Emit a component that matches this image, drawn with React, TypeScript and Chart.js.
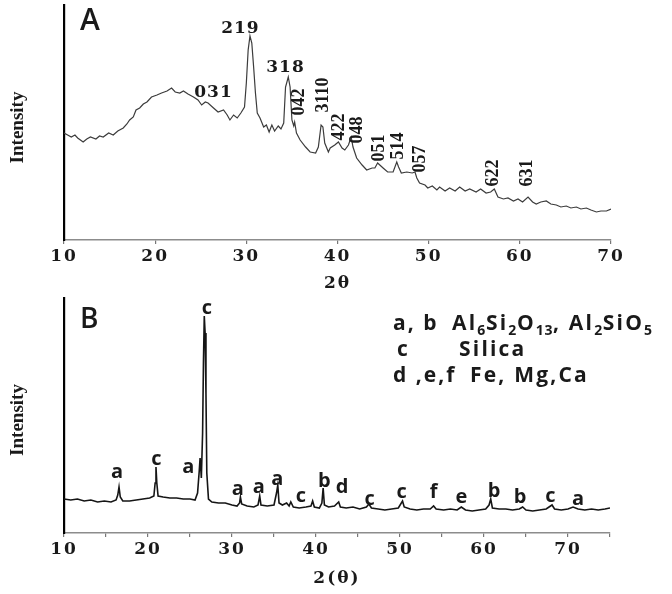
import React, { useEffect, useRef } from 'react';
import { Chart, registerables } from 'chart.js';

Chart.register(...registerables);

// ---------- Panel A data (2θ vs intensity, arbitrary units) ----------
const thetaA = [
  10.0, 10.4, 10.8, 11.2, 11.5, 12.1, 12.5, 12.9, 13.5, 13.9, 14.3, 14.9, 15.4, 15.9, 16.5, 16.9,
  17.2, 17.6, 17.9, 18.3, 18.7, 19.1, 19.6, 20.2, 20.7, 21.3, 21.8, 22.2, 22.7, 23.1, 23.6, 24.2,
  24.7, 25.1, 25.5, 25.8, 26.4, 26.9, 27.5, 27.9, 28.2, 28.6, 29.0, 29.4, 29.8, 30.0, 30.2, 30.4,
  30.6, 30.8, 31.0, 31.2, 31.5, 31.9, 32.2, 32.5, 32.8, 33.1, 33.5, 33.8, 34.1, 34.3, 34.6, 34.8,
  35.0, 35.2, 35.3, 35.5, 35.9, 36.5, 37.0, 37.6, 37.9, 38.2, 38.4, 38.6, 39.0, 39.2, 39.7, 40.1,
  40.5, 40.8, 41.2, 41.5, 41.7, 42.1, 42.7, 43.2, 43.8, 44.1, 44.4, 45.0, 45.5, 46.1, 46.5, 46.7,
  47.0, 47.6, 48.2, 48.5, 48.7, 49.0, 49.6, 49.9, 50.4, 50.9, 51.2, 51.8, 52.3, 52.9, 53.4, 54.0,
  54.5, 55.2, 55.7, 56.3, 56.8, 57.2, 57.6, 58.2, 58.7, 59.3, 59.8, 60.3, 60.9, 61.4, 61.8, 62.3,
  62.9, 63.4, 64.0, 64.5, 65.1, 65.6, 66.2, 66.7, 67.3, 67.8, 68.4, 68.9, 69.5, 70.0,
];
const intensityA = [
  107, 105, 103, 105, 102, 98, 101, 103, 101, 104, 103, 107, 105, 109, 112, 116,
  120, 123, 130, 132, 136, 138, 143, 145, 147, 149, 152, 148, 147, 149, 146, 143,
  140, 135, 138, 137, 132, 128, 130, 125, 120, 125, 122, 127, 133, 157, 190, 204,
  197, 173, 147, 127, 122, 113, 115, 108, 115, 109, 114, 111, 117, 153, 163, 153,
  120, 114, 118, 107, 100, 93, 88, 87, 93, 115, 113, 97, 88, 92, 95, 98,
  92, 90, 95, 103, 93, 82, 75, 70, 72, 72, 77, 72, 68, 68, 78, 73,
  67, 68, 67, 68, 62, 57, 55, 52, 54, 50, 53, 49, 52, 49, 53, 49,
  51, 48, 51, 47, 48, 51, 43, 41, 42, 39, 41, 38, 43, 38, 36, 38,
  39, 36, 35, 33, 34, 32, 33, 31, 32, 30, 28, 29, 29, 31,
];
const tickValuesA = [10, 20, 30, 40, 50, 60, 70];

const peakTextA = ['219', '318', '031', '042', '3110', '422', '048', '051', '514', '057', '622', '631'];
const peakXA = [29.3, 34.24, 26.34, 35.67, 38.3, 40.05, 42.03, 44.44, 46.53, 48.94, 56.95, 60.67];
const peakYA = [207, 168, 143, 138, 145, 113, 110, 92, 94, 81, 67, 67];
const peakVerticalA = [false, false, false, true, true, true, true, true, true, true, true, true];

// ---------- Panel B data ----------
const thetaB = [
  10.0, 10.8, 11.6, 12.4, 13.2, 14.0, 14.8, 15.6, 16.2, 16.4, 16.55, 16.7, 17.0, 17.8, 18.6, 19.4,
  20.2, 20.7, 20.85, 20.95, 21.05, 21.2, 21.8, 22.6, 23.4, 24.2, 25.0, 25.6, 25.9, 26.1, 26.2, 26.35,
  26.5, 26.6, 26.7, 26.8, 26.9, 27.0, 27.2, 27.6, 28.4, 29.2, 30.0, 30.6, 30.9, 31.0, 31.15, 31.8,
  32.6, 33.1, 33.3, 33.45, 34.2, 35.0, 35.3, 35.45, 35.6, 36.0, 36.5, 36.8, 37.0, 37.3, 38.0, 38.8,
  39.4, 39.6, 39.8, 40.4, 40.7, 40.85, 41.0, 41.5, 42.2, 42.7, 42.9, 43.6, 44.4, 45.2, 46.0, 46.3,
  46.6, 47.4, 48.2, 49.0, 49.8, 50.3, 50.5, 51.2, 52.0, 52.8, 53.6, 54.0, 54.3, 55.2, 56.0, 56.8,
  57.3, 57.8, 58.6, 59.4, 60.2, 60.6, 60.8, 61.0, 61.8, 62.6, 63.4, 64.2, 64.6, 65.0, 65.8, 66.6,
  67.4, 68.1, 68.4, 69.2, 70.0, 70.6, 71.2, 72.0, 72.8, 73.6, 74.4, 75.0,
];
const intensityB = [
  34, 33, 34, 32, 33, 31, 32, 31, 33, 38, 46, 36, 32, 32, 33, 34,
  35, 37, 50, 66, 50, 37, 36, 35, 35, 34, 34, 33, 40, 62, 75, 55,
  100, 170, 217, 200, 140, 60, 34, 31, 30, 30, 28, 27, 30, 36, 29, 27,
  26, 28, 37, 28, 27, 28, 40, 48, 30, 28, 30, 27, 31, 26, 25, 26,
  27, 32, 26, 25, 30, 45, 28, 26, 27, 31, 26, 25, 26, 24, 26, 29,
  25, 24, 23, 24, 25, 32, 26, 24, 23, 24, 24, 27, 24, 23, 24, 23,
  26, 23, 22, 23, 24, 28, 34, 25, 24, 24, 23, 24, 26, 23, 22, 23,
  24, 28, 24, 23, 24, 26, 24, 23, 24, 23, 24, 25,
];
const tickValuesB = [10, 15, 20, 25, 30, 35, 40, 45, 50, 55, 60, 65, 70, 75];
const tickLabelsB = ['10', '', '20', '', '30', '', '40', '', '50', '', '60', '', '70', ''];

const peakTextB = ['a', 'c', 'a', 'c', 'a', 'a', 'a', 'c', 'b', 'd', 'c', 'c', 'f', 'e', 'b', 'b', 'c', 'a'];
const peakXB = [16.3, 21.0, 24.8, 27.0, 30.7, 33.2, 35.4, 38.2, 41.0, 43.1, 46.4, 50.2, 54.0, 57.3, 61.2, 64.3, 67.9, 71.2];
const peakYB = [55, 68, 60, 219, 38, 40, 48, 31, 46, 40, 28, 35, 35, 30, 36, 30, 31, 28];

const legendKeys = ['a, b', 'c', 'd ,e,f'];
const legendValues = ['Al_6Si_2O_13, Al_2SiO_5', 'Silica', 'Fe, Mg,Ca'];

// ---------- helpers ----------
const SERIF = '"DejaVu Serif", serif';
const SANS = '"Open Sans", sans-serif';
const INK = '#1a1a1a';

const spacingPlugin = {
  id: 'spacing',
  beforeDraw(chart: any) {
    chart.ctx.letterSpacing = '2px';
  },
  beforeDatasetsDraw(chart: any) {
    chart.ctx.letterSpacing = '0px';
  },
};

function drawYTitle(chart: any) {
  const ctx = chart.ctx;
  const area = chart.chartArea;
  ctx.save();
  ctx.letterSpacing = '0px';
  ctx.translate(18, (area.top + area.bottom) / 2 + 5);
  ctx.rotate(-Math.PI / 2);
  ctx.font = 'bold 19px "Liberation Serif", serif';
  ctx.fillStyle = INK;
  ctx.textAlign = 'center';
  ctx.textBaseline = 'middle';
  ctx.fillText('Intensity', 0, 0);
  ctx.restore();
}

function drawRich(ctx: any, text: string, x: number, y: number, size: number) {
  const parts = text.split(/_(\d+)/);
  let cx = x;
  parts.forEach((p, i) => {
    if (!p) return;
    const sub = i % 2 === 1;
    ctx.font = `bold ${sub ? Math.round(size * 0.68) : size}px ${SANS}`;
    ctx.letterSpacing = sub ? '0.6px' : '2.2px';
    ctx.fillText(p, cx, y + (sub ? size * 0.25 : 0));
    cx += ctx.measureText(p).width;
  });
}

const panelAPlugin = {
  id: 'panelA',
  afterDraw(chart: any) {
    const ctx = chart.ctx;
    const xs = chart.scales.x;
    const ys = chart.scales.y;
    ctx.save();
    ctx.fillStyle = INK;
    peakTextA.forEach((t, i) => {
      const px = xs.getPixelForValue(peakXA[i]);
      const py = ys.getPixelForValue(peakYA[i]);
      if (peakVerticalA[i]) {
        ctx.save();
        ctx.letterSpacing = '0px';
        ctx.translate(px, py);
        ctx.rotate(-Math.PI / 2);
        ctx.font = 'bold 18px "Liberation Serif", serif';
        ctx.textAlign = 'center';
        ctx.textBaseline = 'alphabetic';
        ctx.fillText(t, 0, 6);
        ctx.restore();
      } else {
        ctx.letterSpacing = '1px';
        ctx.font = `bold 17px ${SERIF}`;
        ctx.textAlign = 'center';
        ctx.textBaseline = 'alphabetic';
        ctx.fillText(t, px + 0.5, py);
      }
    });
    ctx.letterSpacing = '0px';
    ctx.font = `600 30px ${SANS}`;
    ctx.textAlign = 'left';
    ctx.textBaseline = 'alphabetic';
    ctx.fillText('A', 80, 30);
    ctx.restore();
    drawYTitle(chart);
  },
};

const panelBPlugin = {
  id: 'panelB',
  afterDraw(chart: any) {
    const ctx = chart.ctx;
    const xs = chart.scales.x;
    const ys = chart.scales.y;
    ctx.save();
    ctx.letterSpacing = '0px';
    ctx.fillStyle = INK;
    ctx.textAlign = 'center';
    ctx.textBaseline = 'alphabetic';
    ctx.font = `bold 20px ${SANS}`;
    peakTextB.forEach((t, i) => {
      ctx.fillText(t, xs.getPixelForValue(peakXB[i]), ys.getPixelForValue(peakYB[i]));
    });
    ctx.font = `600 28px ${SANS}`;
    ctx.textAlign = 'left';
    ctx.fillText('B', 80, 31);
    // legend
    const keyX = [393, 397, 393];
    const valX = [452, 459, 470];
    const baseY = [33, 59, 85];
    legendKeys.forEach((k, i) => {
      ctx.font = `bold 21px ${SANS}`;
      ctx.letterSpacing = '2px';
      ctx.fillText(k, keyX[i], baseY[i]);
      drawRich(ctx, legendValues[i], valX[i], baseY[i], 21);
    });
    ctx.restore();
    drawYTitle(chart);
  },
};

function tickFont() {
  return { family: SERIF, size: 17, weight: 'bold' as const };
}

function makeChart(
  canvas: HTMLCanvasElement,
  xs: number[],
  ys: number[],
  xmin: number,
  xmax: number,
  ymax: number,
  ticks: number[],
  tickLabels: string[],
  title: string,
  padRight: number,
  padTop: number,
  axisHeight: number,
  titlePad: number,
  lineColor: string,
  lineWidth: number,
  plugin: any,
) {
  return new Chart(canvas, {
    type: 'line',
    data: {
      datasets: [
        {
          data: xs.map((x, i) => ({ x, y: ys[i] })),
          borderColor: lineColor,
          borderWidth: lineWidth,
          pointRadius: 0,
          tension: 0,
          fill: false,
        },
      ],
    },
    options: {
      animation: false,
      responsive: false,
      events: [],
      layout: { padding: { left: 0, right: padRight, top: padTop, bottom: 0 } },
      plugins: { legend: { display: false }, tooltip: { enabled: false } },
      scales: {
        x: {
          type: 'linear',
          min: xmin,
          max: xmax,
          afterBuildTicks: (s: any) => {
            s.ticks = ticks.map((v) => ({ value: v }));
          },
          afterFit: (s: any) => {
            s.height = axisHeight;
          },
          grid: { drawOnChartArea: false, drawTicks: true, tickLength: 4, color: '#777', lineWidth: 1.2 },
          border: { color: '#8c8c8c', width: 1.6 },
          ticks: {
            font: tickFont(),
            color: INK,
            padding: 2,
            maxRotation: 0,
            autoSkip: false,
            callback: (_v: any, i: number) => tickLabels[i],
          },
          title: {
            display: true,
            text: title,
            font: { family: SERIF, size: 17, weight: 'bold' },
            color: INK,
            padding: { top: 0, bottom: titlePad },
          },
        },
        y: {
          min: 0,
          max: ymax,
          afterFit: (s: any) => {
            s.width = 64;
          },
          ticks: { display: false },
          grid: { display: false },
          border: { color: '#000', width: 2.2 },
        },
      },
    },
    plugins: [spacingPlugin, plugin],
  } as any);
}

export default function App() {
  const refA = useRef<HTMLCanvasElement>(null);
  const refB = useRef<HTMLCanvasElement>(null);

  useEffect(() => {
    const a = makeChart(
      refA.current!, thetaA, intensityA, 10, 70, 235, tickValuesA,
      tickValuesA.map(String), '2θ', 61, 5, 57, 3, '#3c3c3c', 1.2, panelAPlugin,
    );
    const b = makeChart(
      refB.current!, thetaB, intensityB, 10, 75, 236, tickValuesB,
      tickLabelsB, '2(θ)', 62, 0, 61, 5, '#151515', 1.6, panelBPlugin,
    );
    return () => {
      a.destroy();
      b.destroy();
    };
  }, []);

  return (
    <div style={{ position: 'fixed', left: 0, top: 0, width: 672, height: 594, background: '#fff' }}>
      <canvas ref={refA} width={672} height={297} style={{ position: 'absolute', left: 0, top: 0, width: 672, height: 297 }} />
      <canvas ref={refB} width={672} height={297} style={{ position: 'absolute', left: 0, top: 297, width: 672, height: 297 }} />
    </div>
  );
}
